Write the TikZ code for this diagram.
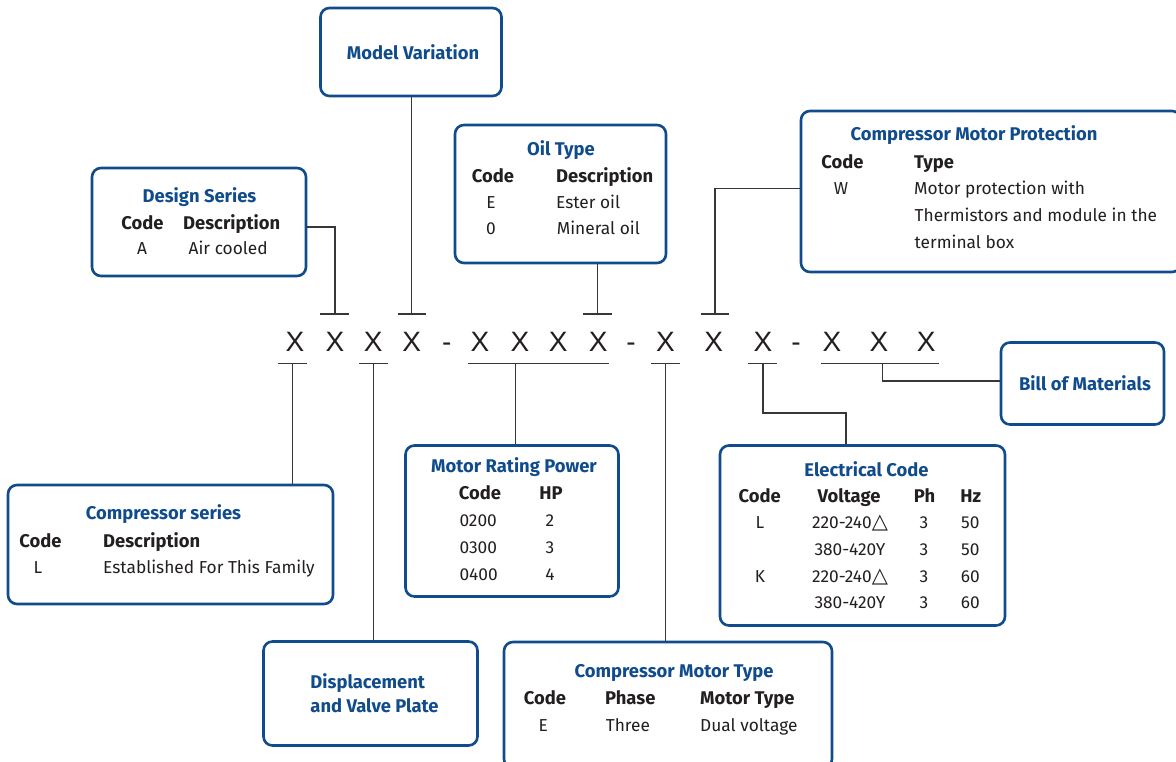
\documentclass[tikz,border=0pt]{standalone}
\usepackage{fontspec}
\setmainfont{Fira Sans}
\newfontfamily\xfont{Liberation Sans}
\newfontfamily\symf{DejaVu Sans}
\definecolor{bblue}{RGB}{16,76,140}
\definecolor{tblue}{RGB}{16,76,140}
\definecolor{ink}{RGB}{35,31,32}
\definecolor{lineg}{RGB}{55,55,55}
\begin{document}
\begin{tikzpicture}[x=1pt,y=-1pt,
 box/.style={draw=bblue, line width=2.6pt, rounded corners=9pt, fill=white, inner sep=0pt},
 ttl/.style={text=tblue, font=\fontsize{18.4}{24}\selectfont\bfseries, inner sep=0pt, anchor=base},
 hd/.style={text=ink, font=\fontsize{18.4}{21}\selectfont\bfseries, inner sep=0pt, anchor=base},
 tx/.style={text=ink, font=\fontsize{17.3}{20}\selectfont, inner sep=0pt, anchor=base},
 txw/.style={tx, anchor=base west},
 hdw/.style={hd, anchor=base west},
 xx/.style={text=ink, font=\xfont\fontsize{28}{30}\selectfont, inner sep=0pt, anchor=base},
 conn/.style={draw=lineg, line width=1.3pt},
]
\useasboundingbox (0,0) rectangle (1176,762);

% ---------- boxes ----------
\node[box, minimum width=181pt, minimum height=88pt] (mv) at (411,52) {};
\node[box, minimum width=214pt, minimum height=108pt] (ds) at (199,222) {};
\node[box, minimum width=211pt, minimum height=138pt] (ot) at (560.5,194) {};
\node[box, minimum width=380pt, minimum height=161pt] (mp) at (991,191.5) {};
\node[box, minimum width=325pt, minimum height=119pt] (cs) at (170.5,544.5) {};
\node[box, minimum width=213pt, minimum height=151pt] (mr) at (512,521) {};
\node[box, minimum width=285pt, minimum height=180pt] (ec) at (862.5,535.5) {};
\node[box, minimum width=328pt, minimum height=126pt] (mt) at (668,705) {};
\node[box, minimum width=214pt, minimum height=104pt] (dv) at (370.5,693.5) {};
\node[box, minimum width=163pt, minimum height=82pt] (bom) at (1082.5,383.5) {};

% ---------- single titles ----------
\node[ttl, anchor=center] (mvt) at (413,52) {Model Variation};
\node[ttl, anchor=center] (bomt) at (1085,383) {Bill of Materials};
\node[ttl, anchor=center, align=left] (dvt) at (374.5,693) {Displacement\\and Valve Plate};

% ---------- Design Series ----------
\node[ttl] (dst) at (199.5,202.5) {Design Series};
\node[hd] (dsh1) at (142.5,229.5) {Code};
\node[hdw] (dsh2) at (183,229.5) {Description};
\node[tx] (dsr1) at (142,254.5) {A};
\node[txw] (dsr2) at (188.5,254.5) {Air cooled};

% ---------- Oil Type ----------
\node[ttl] (ott) at (561,156) {Oil Type};
\node[hd] (oth1) at (493,182.5) {Code};
\node[hdw] (oth2) at (556,182.5) {Description};
\node[tx] (otr1) at (491,208.5) {E};
\node[txw] (otr2) at (556,208.5) {Ester oil};
\node[tx] (otr3) at (491,235) {0};
\node[txw] (otr4) at (556.7,235) {Mineral oil};

% ---------- Compressor Motor Protection ----------
\node[ttl] (mpt) at (974,141) {Compressor Motor Protection};
\node[hd] (mph1) at (842.5,168.5) {Code};
\node[hdw] (mph2) at (914,168.5) {Type};
\node[tx] (mpr1) at (841,194.5) {W};
\node[txw] (mpr2) at (914,194.5) {Motor protection with};
\node[txw] (mpr3) at (914.5,222) {Thermistors and module in the};
\node[txw] (mpr4) at (914.5,248.5) {terminal box};

% ---------- Compressor series ----------
\node[ttl] (cst) at (163.5,519) {Compressor series};
\node[hd] (csh1) at (40.5,547) {Code};
\node[hdw] (csh2) at (103,547) {Description};
\node[tx] (csr1) at (38,573.5) {L};
\node[txw] (csr2) at (103,573.5) {Established For This Family};

% ---------- Motor Rating Power ----------
\node[ttl] (mrt) at (514,472.5) {Motor Rating Power};
\node[hd] (mrh1) at (480,499.5) {Code};
\node[hd] (mrh2) at (551,499.5) {HP};
\node[txw] (mrr1) at (459.3,526.5) {0200};
\node[tx] (mrr2) at (550,526.5) {2};
\node[txw] (mrr3) at (459.3,553.5) {0300};
\node[tx] (mrr4) at (550,553.5) {3};
\node[txw] (mrr5) at (459.3,580) {0400};
\node[tx] (mrr6) at (550,580) {4};

% ---------- Electrical Code ----------
\node[ttl] (ect) at (866.5,476) {Electrical Code};
\node[hd] (ech1) at (759.7,502) {Code};
\node[hd] (ech2) at (849,502) {Voltage};
\node[hd] (ech3) at (924.5,502) {Ph};
\node[hd] (ech4) at (970.8,502) {Hz};
\node[tx] (ecc1) at (760,528.5) {L};
\node[tx] (ecv1) at (850,528.5) {220-240{\symf\fontsize{21}{22}\selectfont △}};
\node[tx] (ecp1) at (924,528.5) {3};
\node[tx] (ecz1) at (970.3,528.5) {50};
\node[tx] (ecv2) at (850,555.5) {380-420Y};
\node[tx] (ecp2) at (924,555.5) {3};
\node[tx] (ecz2) at (970.3,555.5) {50};
\node[tx] (ecc3) at (760,582) {K};
\node[tx] (ecv3) at (850,582) {220-240{\symf\fontsize{21}{22}\selectfont △}};
\node[tx] (ecp3) at (924,582) {3};
\node[tx] (ecz3) at (970.3,582) {60};
\node[tx] (ecv4) at (850,608.5) {380-420Y};
\node[tx] (ecp4) at (924,608.5) {3};
\node[tx] (ecz4) at (970.3,608.5) {60};

% ---------- Compressor Motor Type ----------
\node[ttl] (mtt) at (674,677.5) {Compressor Motor Type};
\node[hd] (mth1) at (545,704.5) {Code};
\node[hdw] (mth2) at (605,704.5) {Phase};
\node[hdw] (mth3) at (700,704.5) {Motor Type};
\node[tx] (mtr1) at (543.3,731) {E};
\node[txw] (mtr2) at (605.7,731) {Three};
\node[txw] (mtr3) at (700,731) {Dual voltage};

% ---------- model code ----------
\node[xx] (x1) at (295,351.7) {X};
\node[xx] (x2) at (335,351.7) {X};
\node[xx] (x3) at (373.3,351.7) {X};
\node[xx] (x4) at (411.7,351.7) {X};
\node[xx] (d1) at (446.7,351.7) {-};
\node[xx] (x5) at (480,351.7) {X};
\node[xx] (x6) at (520,351.7) {X};
\node[xx] (x7) at (558.3,351.7) {X};
\node[xx] (x8) at (598.3,351.7) {X};
\node[xx] (d2) at (631,351.7) {-};
\node[xx] (x9) at (665.5,351.7) {X};
\node[xx] (x10) at (713.8,351.7) {X};
\node[xx] (x11) at (763,351.7) {X};
\node[xx] (d3) at (796,351.7) {-};
\node[xx] (x12) at (832,351.7) {X};
\node[xx] (x13) at (878.9,351.7) {X};
\node[xx] (x14) at (926.3,351.7) {X};

% ---------- marker bars ----------
% top
\coordinate (tdsA) at (320,314); \coordinate (tdsB) at (349,314); \coordinate (tds) at (335,314);
\coordinate (tmvA) at (397.7,314); \coordinate (tmvB) at (426,314); \coordinate (tmv) at (411.7,314);
\coordinate (totA) at (583,314); \coordinate (totB) at (611.7,314); \coordinate (tot) at (597.5,314);
\coordinate (tmpA) at (701,314); \coordinate (tmpB) at (729,314); \coordinate (tmp) at (715,314);
% bottom
\coordinate (bcsA) at (278.3,363.3); \coordinate (bcsB) at (306.7,363.3); \coordinate (bcs) at (292.7,363.3);
\coordinate (bdvA) at (359,363.3); \coordinate (bdvB) at (387.7,363.3); \coordinate (bdv) at (373.3,363.3);
\coordinate (bmrA) at (467.7,363.3); \coordinate (bmrB) at (609,363.3); \coordinate (bmr) at (515.7,363.3);
\coordinate (bmtA) at (651,363.3); \coordinate (bmtB) at (680,363.3); \coordinate (bmt) at (665.5,363.3);
\coordinate (becA) at (748,363.3); \coordinate (becB) at (776.5,363.3); \coordinate (bec) at (763,363.3);
\coordinate (bbmA) at (821,363.3); \coordinate (bbmB) at (939.3,363.3); \coordinate (bbm) at (882.5,363.3);

\foreach \p in {tds,tmv,tot,tmp,bcs,bdv,bmr,bmt,bec,bbm}{
  \draw[conn] (\p A) -- (\p B);
}

% ---------- connectors ----------
\coordinate (dsk) at (335,227);
\draw[conn] (tds) -- (dsk) -- (ds.east |- dsk);
\draw[conn] (tmv) -- (tmv |- mv.south);
\draw[conn] (tot) -- (tot |- ot.south);
\coordinate (mpk) at (715,188.5);
\draw[conn] (tmp) -- (mpk) -- (mp.west |- mpk);
\draw[conn] (bcs) -- (bcs |- cs.north);
\draw[conn] (bdv) -- (bdv |- dv.north);
\draw[conn] (bmr) -- (bmr |- mr.north);
\draw[conn] (bmt) -- (bmt |- mt.north);
\coordinate (eck1) at (763,413); \coordinate (eck2) at (846,413);
\draw[conn] (bec) -- (eck1) -- (eck2) -- (eck2 |- ec.north);
\coordinate (bmk) at (882.5,381);
\draw[conn] (bbm) -- (bmk) -- (bom.west |- bmk);
\end{tikzpicture}
\end{document}
